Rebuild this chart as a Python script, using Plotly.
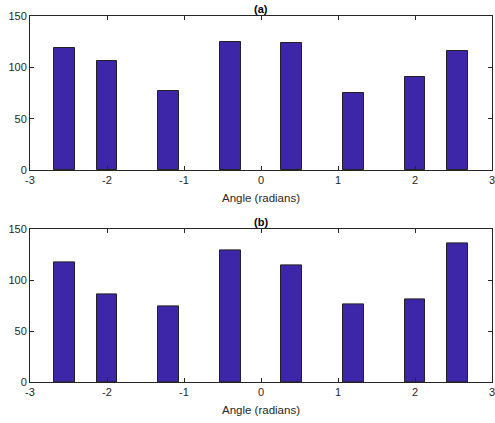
import plotly.graph_objects as go

angles = [-2.55, -2.0, -1.2, -0.4, 0.4, 1.2, 2.0, 2.55]
counts_a = [119, 106, 77, 125, 124, 75, 91, 116]
counts_b = [118, 86, 74, 129, 115, 76, 81, 136]
bar_width = 0.27
titles = ["<b>(a)</b>", "<b>(b)</b>"]
x_title = "Angle (radians)"
x_ticks = [-3, -2, -1, 0, 1, 2, 3]
x_ticktext = ["-3", "-2", "-1", "0", "1", "2", "3"]
y_ticks = [0, 50, 100, 150]

fill = "rgb(62,38,168)"
axis_col = "#262626"
font = "Liberation Sans, Arial, sans-serif"

fig = go.Figure()
fig.add_trace(go.Bar(x=angles, y=counts_a, width=bar_width, marker=dict(color=fill, line=dict(color="#222", width=1)), xaxis="x", yaxis="y"))
fig.add_trace(go.Bar(x=angles, y=counts_b, width=bar_width, marker=dict(color=fill, line=dict(color="#222", width=1)), xaxis="x2", yaxis="y2"))

ax_common = dict(showgrid=False, zeroline=False, showline=True, linecolor=axis_col, linewidth=1,
                 mirror="ticks", ticks="inside", ticklen=4, tickcolor=axis_col, automargin=False,
                 ticklabeloverflow="allow",
                 tickfont=dict(size=11, color="#262626", family=font))
xt = dict(text=x_title, font=dict(size=11.5, family=font, color="#262626"), standoff=8)
fig.update_layout(
    width=495, height=423,
    margin=dict(l=30, r=3, t=16, b=41),
    plot_bgcolor="white", paper_bgcolor="white",
    showlegend=False, bargap=0,
    xaxis=dict(ax_common, range=[-3, 3], tickvals=x_ticks, ticktext=x_ticktext, domain=[0, 1], anchor="y", title=xt),
    yaxis=dict(ax_common, range=[0, 150], tickvals=y_ticks, domain=[0.579, 1.0], anchor="x"),
    xaxis2=dict(ax_common, range=[-3, 3], tickvals=x_ticks, ticktext=x_ticktext, domain=[0, 1], anchor="y2", title=xt),
    yaxis2=dict(ax_common, range=[0, 150], tickvals=y_ticks, domain=[0, 0.417], anchor="x2"),
    annotations=[
        dict(text=titles[0], x=0.5, y=1.0, xref="paper", yref="paper", xanchor="center", yanchor="bottom",
             showarrow=False, font=dict(size=11, family=font, color="black"), yshift=-1),
        dict(text=titles[1], x=0.5, y=0.417, xref="paper", yref="paper", xanchor="center", yanchor="bottom",
             showarrow=False, font=dict(size=11, family=font, color="black"), yshift=-1),
    ],
)
fig.write_html("out.html", config={"displayModeBar": False},
               post_script="document.body.style.margin='0';document.body.style.overflow='hidden';")
